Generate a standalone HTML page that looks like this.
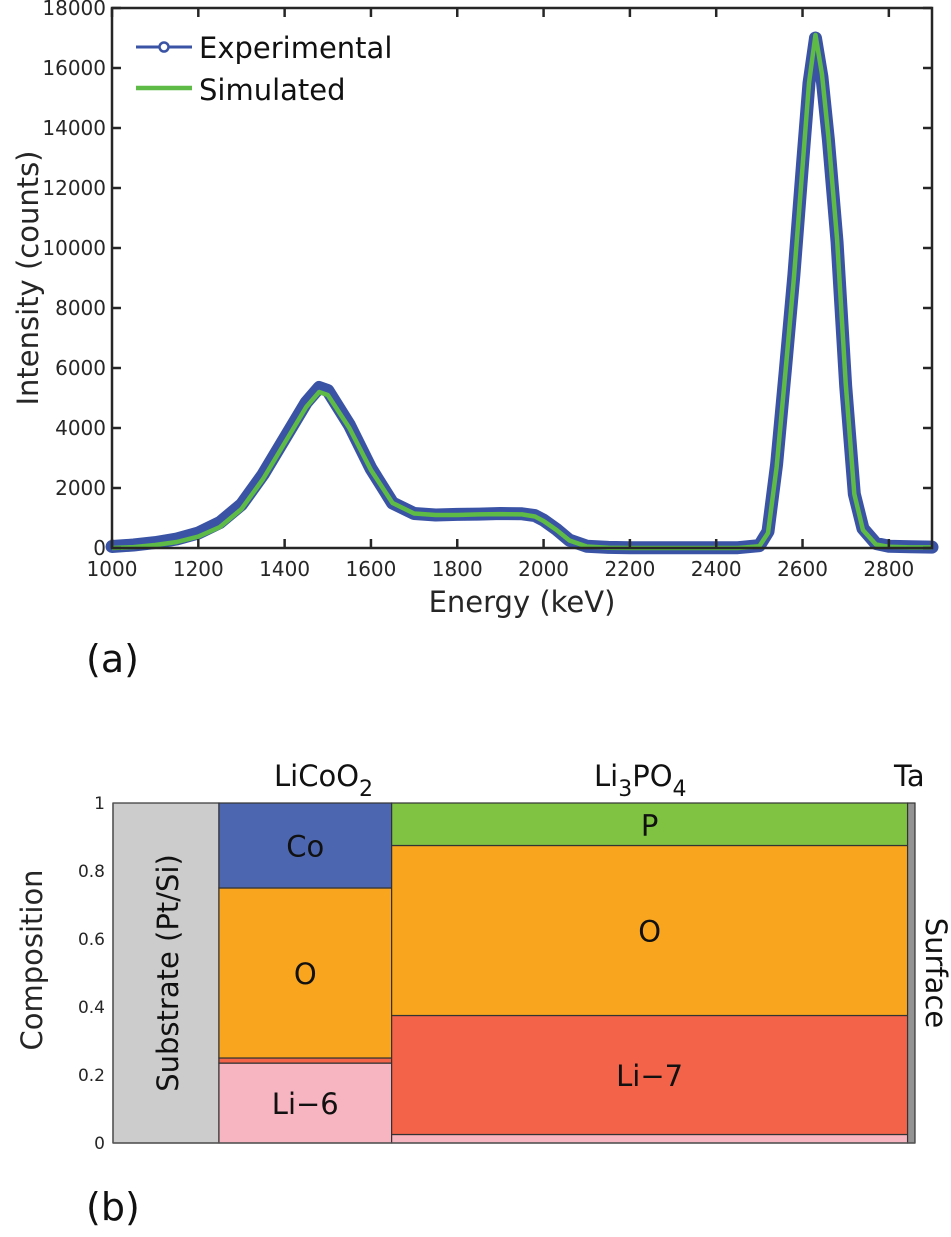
<!DOCTYPE html>
<html><head><meta charset="utf-8"><style>
body{margin:0;background:#fff;width:951px;height:1237px;overflow:hidden}
svg{display:block;font-family:"DejaVu Sans","Liberation Sans",sans-serif}
</style></head><body>
<svg id="s" width="951" height="1237" viewBox="0 0 951 1237">
<g id="topg"></g>
<g id="botg"></g>
</svg>
<script>
const energy=[1000,1050,1100,1150,1200,1250,1300,1350,1400,1450,1480,1500,1550,1600,1650,1700,1750,1800,1850,1900,1950,1980,2000,2030,2060,2100,2150,2200,2300,2400,2450,2500,2520,2540,2560,2580,2600,2615,2630,2645,2660,2680,2700,2720,2740,2770,2800,2850,2900];
const simulated=[0,30,100,200,380,700,1300,2300,3500,4700,5200,5100,4000,2600,1500,1150,1100,1100,1120,1130,1120,1050,900,600,250,50,10,0,0,0,0,60,500,2700,5800,9000,12700,15500,17100,15800,13700,10300,5500,1800,600,120,40,20,20];
const experimental=[50,100,180,300,500,850,1450,2450,3650,4850,5350,5250,4100,2650,1500,1150,1100,1120,1130,1150,1140,1080,930,620,260,60,20,10,10,10,10,80,550,2800,5900,9100,12800,15500,17000,15700,13600,10200,5400,1800,650,150,60,40,30];
const yTicks=[0,2000,4000,6000,8000,10000,12000,14000,16000,18000];
const xTicks=[1000,1200,1400,1600,1800,2000,2200,2400,2600,2800];
const layers=['Substrate (Pt/Si)','LiCoO2','Li3PO4','Ta'];
const layerBounds=[0,1,2.63,7.5,7.57];
const compBands=[
 [1,0,1,'#cccccc',''],
 [2,0,0.235,'#f7b4c1','Li−6'],[2,0.235,0.25,'#f2634a',''],[2,0.25,0.75,'#f9a51e','O'],[2,0.75,1,'#4c66b0','Co'],
 [3,0,0.025,'#f7b4c1',''],[3,0.025,0.375,'#f2634a','Li−7'],[3,0.375,0.875,'#f9a51e','O'],[3,0.875,1,'#80c343','P'],
 [4,0,1,'#939393','']
];
const compTicks=[0,0.2,0.4,0.6,0.8,1];
const NS='http://www.w3.org/2000/svg';
function el(t,a,p,txt){const e=document.createElementNS(NS,t);for(const k in a)e.setAttribute(k,a[k]);if(txt!==undefined)e.textContent=String(txt);p.appendChild(e);return e;}
const topG=document.getElementById('topg'),botG=document.getElementById('botg');
const X0=112,X1=932,Y0=548,Y1=8;
const xs=v=>X0+(v-1000)/1900*(X1-X0), ys=v=>Y0-v/18000*(Y0-Y1);
let pe=energy.map((e,i)=>xs(e)+','+ys(experimental[i])).join(' ');
let l=el('polyline',{points:pe,fill:'none',stroke:'#3a53a5','stroke-width':13,'stroke-linejoin':'round','stroke-linecap':'round'},topG);


let ps=energy.map((e,i)=>xs(e)+','+ys(simulated[i])).join(' ');
l=el('polyline',{points:ps,fill:'none',stroke:'#5dbb46','stroke-width':4.5,'stroke-linejoin':'round'},topG);


let b=el('rect',{x:X0,y:Y1,width:X1-X0,height:Y0-Y1,fill:'none',stroke:'#262626','stroke-width':2.5},topG);


xTicks.forEach(v=>{const x=xs(v);
 el('line',{x1:x,x2:x,y1:Y0,y2:Y0-9,stroke:'#262626','stroke-width':2.5},topG);
 el('line',{x1:x,x2:x,y1:Y1,y2:Y1+9,stroke:'#262626','stroke-width':2.5},topG);
 const t=el('text',{x:x,y:Y0+28,'text-anchor':'middle','font-size':20,fill:'#262626'},topG,v);
 
 });
yTicks.forEach(v=>{const y=ys(v);
 el('line',{x1:X0,x2:X0+9,y1:y,y2:y,stroke:'#262626','stroke-width':2.5},topG);
 el('line',{x1:X1,x2:X1-9,y1:y,y2:y,stroke:'#262626','stroke-width':2.5},topG);
 const t=el('text',{x:X0-6,y:y+7,'text-anchor':'end','font-size':20,fill:'#262626'},topG,v);
 
 });
let t=el('text',{x:(X0+X1)/2,y:612,'text-anchor':'middle','font-size':29,fill:'#262626'},topG,'Energy (keV)');

t=el('text',{x:0,y:0,'text-anchor':'middle','font-size':29,fill:'#262626',transform:'translate(38,278) rotate(-90)'},topG,'Intensity (counts)');

let lg=el('g',{},topG);
el('line',{x1:136,x2:192,y1:47,y2:47,stroke:'#3a53a5','stroke-width':3},lg);
el('circle',{cx:164,cy:47,r:4.5,fill:'#fff',stroke:'#3a53a5','stroke-width':2.5},lg);
el('line',{x1:136,x2:192,y1:88,y2:88,stroke:'#5dbb46','stroke-width':4.5},lg);
el('text',{x:199,y:58,'font-size':29,fill:'#111'},lg,'Experimental');
el('text',{x:199,y:100,'font-size':29,fill:'#111'},lg,'Simulated');
t=el('text',{x:86,y:672,'font-size':38,fill:'#111'},topG,'(a)');
const BX0=113,BX1=915,BY0=1143,BY1=803;
const bx=v=>BX0+v/layerBounds[4]*(BX1-BX0), by=v=>BY0-v*(BY0-BY1);
compBands.forEach(c=>{const x0=bx(layerBounds[c[0]-1]),x1=bx(layerBounds[c[0]]);
 const r=el('rect',{x:x0,y:by(c[2]),width:x1-x0,height:by(c[1])-by(c[2]),fill:c[3],stroke:'#333','stroke-width':1.2},botG);
 
 
 if(c[4]){const tt=el('text',{x:(x0+x1)/2,y:(by(c[1])+by(c[2]))/2+11,'text-anchor':'middle','font-size':29,fill:'#111'},botG,c[4]);
  }});
el('line',{x1:BX0,x2:BX0,y1:BY1,y2:BY0,stroke:'#555','stroke-width':1.5},botG);
el('line',{x1:BX0,x2:BX1,y1:BY0,y2:BY0,stroke:'#555','stroke-width':1.5},botG);
compTicks.forEach(v=>{const tt=el('text',{x:BX0-8,y:by(v)+6,'text-anchor':'end','font-size':17,fill:'#262626'},botG,v);
 });
t=el('text',{x:0,y:0,'text-anchor':'middle','font-size':29,fill:'#262626',transform:'translate(42,960) rotate(-90)'},botG,'Composition');

t=el('text',{x:0,y:0,'text-anchor':'middle','font-size':29,fill:'#111',transform:'translate(178,973) rotate(-90)'},botG,'Substrate (Pt/Si)');

t=el('text',{x:0,y:0,'text-anchor':'middle','font-size':29,fill:'#111',transform:'translate(926,973) rotate(90)'},botG,'Surface');

t=el('text',{x:274,y:786,'font-size':29,fill:'#111'},botG);
el('tspan',{},t,'LiCoO');el('tspan',{dy:10,'font-size':22},t,'2');

t=el('text',{x:594,y:786,'font-size':29,fill:'#111'},botG);
el('tspan',{},t,'Li');el('tspan',{dy:10,'font-size':22},t,'3');el('tspan',{dy:-10},t,'PO');el('tspan',{dy:10,'font-size':22},t,'4');

t=el('text',{x:894,y:786,'font-size':29,fill:'#111'},botG,'Ta');

t=el('text',{x:86,y:1220,'font-size':38,fill:'#111'},botG,'(b)');
</script>
</body></html>
